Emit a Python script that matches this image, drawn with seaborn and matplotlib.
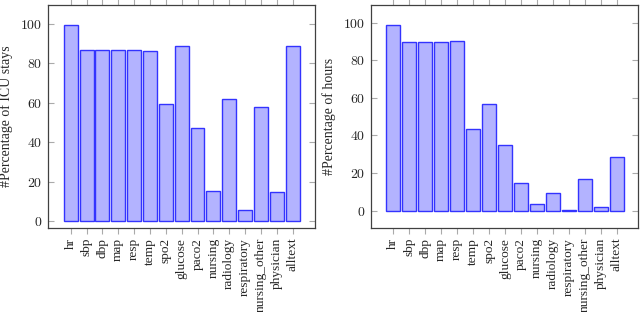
import matplotlib
matplotlib.use("Agg")
import matplotlib.pyplot as plt
import seaborn as sns
import pandas as pd

cats_left = ["hr", "sbp", "dbp", "map", "resp", "temp", "spo2", "glucose", "paco2",
             "nursing", "radiology", "respiratory", "nursing_other", "physician", "alltext"]
vals_left = [99.6, 87.0, 86.9, 87.0, 86.9, 86.3, 59.4, 88.6, 47.4,
             15.2, 61.9, 5.8, 57.7, 14.9, 88.6]

cats_right = ["hr", "sbp", "dbp", "map", "resp", "temp", "spo2", "glucose", "paco2",
              "nursing", "radiology", "respiratory", "nursing_other", "physician", "alltext"]
vals_right = [98.9, 89.5, 89.5, 89.5, 90.1, 43.6, 56.7, 35.1, 14.9,
              3.5, 9.2, 0.6, 16.7, 2.1, 28.4]

ylabel_left = "#Percentage of ICU stays"
ylabel_right = "#Percentage of hours"
yticks = [0, 20, 40, 60, 80, 100]

sns.set_theme(style="white")
plt.rcParams["font.family"] = ["Liberation Serif", "DejaVu Serif"]
plt.rcParams["mathtext.fontset"] = "cm"

fig = plt.figure(figsize=(6.4, 3.12), dpi=100)
W, H = 640, 312
ax1 = fig.add_axes([48 / W, 1 - 228 / H, (315 - 48) / W, (228 - 5) / H])
ax2 = fig.add_axes([371 / W, 1 - 228 / H, (638 - 371) / W, (228 - 5) / H])

def draw(ax, cats, vals, ylabel, ylim, xlim):
    df = pd.DataFrame({"cat": cats, "val": vals})
    sns.barplot(data=df, x="cat", y="val", ax=ax, color="#b3b3ff", saturation=1,
                width=0.88, edgecolor="#3333ff", linewidth=1.0)
    for p in ax.patches:
        p.set_facecolor("#b3b3ff")
    ax.set_ylim(*ylim)
    ax.set_xlim(*xlim)
    ax.set_yticks(yticks)
    ax.set_yticklabels([f"${t}$" for t in yticks], fontsize=10)
    ax.set_xticks(range(len(cats)))
    ax.set_xticklabels(cats, rotation=90, fontsize=9.6)
    ax.set_xlabel("")
    ax.set_ylabel(ylabel, fontsize=10)
    ax.tick_params(axis="y", direction="in", left=True, right=True, length=4,
                   color="#aaaaaa", width=0.8, pad=4)
    ax.tick_params(axis="x", direction="out", bottom=True, top=True, length=4,
                   color="#aaaaaa", width=0.8, pad=3)
    for s in ax.spines.values():
        s.set_color("#404040")
        s.set_linewidth(0.9)

draw(ax1, cats_left, vals_left, ylabel_left, (-3.5, 109.6), (-1.43, 15.41))
draw(ax2, cats_right, vals_right, ylabel_right, (-9.2, 109.4), (-1.4, 15.33))
ax1.yaxis.set_label_coords(-0.13, 0.5)
ax2.yaxis.set_label_coords(-0.13, 0.5)

fig.savefig("out.png", dpi=100)
